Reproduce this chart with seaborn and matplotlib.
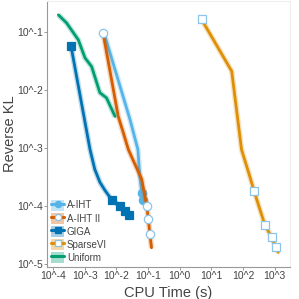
import numpy as np
import pandas as pd
import matplotlib
matplotlib.use("Agg")
import matplotlib.pyplot as plt
import matplotlib.ticker as mticker
from matplotlib.patches import Patch
from matplotlib.lines import Line2D
import seaborn as sns

# log10 values
aiht_t = [-2.39, -1.57, -1.32, -1.26, -1.20, -1.16]
aiht_kl = [-1.02, -2.51, -3.03, -3.49, -3.77, -3.89]

aiht2_t = [-2.42, -1.94, -1.78, -1.62, -1.48, -1.20, -1.10, -1.04, -0.99, -0.94, -0.89]
aiht2_kl = [-1.02, -2.46, -2.74, -3.03, -3.20, -3.54, -3.83, -4.00, -4.23, -4.49, -4.72]

giga_t = [-3.43, -2.83, -2.68, -2.52, -2.36, -2.15, -1.89, -1.73, -1.59]
giga_kl = [-1.25, -3.03, -3.37, -3.59, -3.73, -3.89, -4.00, -4.09, -4.16]

svi_t = [0.69, 1.64, 1.95, 2.21, 2.35, 2.53, 2.69, 2.90, 3.03, 3.11]
svi_kl = [-0.79, -1.68, -3.03, -3.49, -3.75, -4.06, -4.33, -4.54, -4.71, -4.80]

unif_t = [-3.83, -3.57, -3.20, -2.99, -2.78, -2.52, -2.31, -2.04]
unif_kl = [-0.71, -0.85, -1.14, -1.45, -1.60, -2.05, -2.14, -2.46]

x_ticks = [-4, -3, -2, -1, 0, 1, 2, 3]
y_ticks = [-5, -4, -3, -2, -1]

names = ["A-IHT", "A-IHT II", "GIGA", "SparseVI", "Uniform"]
pal = sns.color_palette("colorblind")
colors = {"A-IHT": pal[9], "A-IHT II": pal[3], "GIGA": pal[0],
          "SparseVI": pal[1], "Uniform": pal[2]}
edge = "#8cc4e8"
styles = {
    "A-IHT": dict(marker="o", mfc=pal[9], mec=pal[9], markevery=[4, 5]),
    "A-IHT II": dict(marker="o", mfc="white", mec=edge, markevery=[0, 7, 8, 9]),
    "GIGA": dict(marker="s", mfc=pal[0], mec=pal[0], markevery=[0, 5, 6, 7, 8]),
    "SparseVI": dict(marker="s", mfc="white", mec=edge, markevery=[0, 4, 6, 7, 8]),
    "Uniform": dict(marker=None),
}
series = {"A-IHT": (aiht_t, aiht_kl), "A-IHT II": (aiht2_t, aiht2_kl),
          "GIGA": (giga_t, giga_kl), "SparseVI": (svi_t, svi_kl),
          "Uniform": (unif_t, unif_kl)}

sns.set_style("white")
plt.rcParams["font.family"] = ["Liberation Sans", "DejaVu Sans"]

fig = plt.figure(figsize=(2.99, 2.99), dpi=100)
ax = fig.add_axes([0.157, 0.107, 0.813, 0.89])

handles = []
for name in names:
    t, kl = series[name]
    df = pd.DataFrame({"t": 10 ** np.array(t), "kl": 10 ** np.array(kl)})
    c = colors[name]
    # shaded band look
    sns.lineplot(data=df, x="t", y="kl", ax=ax, sort=False, color=c,
                 lw=4, alpha=0.25, solid_capstyle="butt")
    st = styles[name]
    kw = dict(marker=st["marker"], markersize=6, markeredgewidth=0.9)
    if st["marker"]:
        kw.update(markerfacecolor=st["mfc"], markeredgecolor=st["mec"],
                  markevery=st["markevery"])
    sns.lineplot(data=df, x="t", y="kl", ax=ax, sort=False, color=c, lw=2.0, **kw)
    ln = Line2D([], [], color=c, lw=2.2, marker=st["marker"], markersize=4.5,
                markerfacecolor=st.get("mfc", c), markeredgecolor=st.get("mec", c),
                markeredgewidth=0.9)
    handles.append((Patch(facecolor=c, alpha=0.35, edgecolor="none"), ln))

ax.set_xscale("log")
ax.set_yscale("log")
ax.set_xlim(10 ** -4.19, 10 ** 3.48)
ax.set_ylim(10 ** -5.05, 10 ** -0.47)

fmt = mticker.FuncFormatter(lambda v, p: "10^%d" % round(np.log10(v)))
ax.xaxis.set_major_locator(mticker.FixedLocator([10.0 ** k for k in x_ticks]))
ax.yaxis.set_major_locator(mticker.FixedLocator([10.0 ** k for k in y_ticks]))
ax.xaxis.set_major_formatter(fmt)
ax.yaxis.set_major_formatter(fmt)
minor = [m * 10.0 ** k for k in x_ticks[:-1] + [3] for m in range(2, 10)]
minor = [v for v in minor if v < 10 ** 3.48]
ax.xaxis.set_minor_locator(mticker.FixedLocator(minor))
ax.xaxis.set_minor_formatter(mticker.NullFormatter())
ax.yaxis.set_minor_locator(mticker.NullLocator())
ax.tick_params(axis="both", which="major", labelsize=7.5, length=2, width=0.6,
               color="#888888", labelcolor="#444444", pad=0.8)
ax.tick_params(axis="x", which="minor", length=1.5, width=0.5, color="#888888")
ax.tick_params(bottom=True, left=True)

for s in ["left", "bottom"]:
    ax.spines[s].set_color("#999999")
    ax.spines[s].set_linewidth(0.8)
for s in ["top", "right"]:
    ax.spines[s].set_color("#eeeeee")
    ax.spines[s].set_linewidth(0.8)

ax.set_xlabel("CPU Time (s)", fontsize=10.5, color="#444444")
ax.set_ylabel("Reverse KL", fontsize=10.5, color="#444444")
ax.xaxis.set_label_coords(0.5, -0.072)
ax.yaxis.set_label_coords(-0.125, 0.5)

ax.legend(handles, names, loc="lower left", frameon=False, fontsize=7,
          handlelength=1.3, handleheight=1.3, handletextpad=0.3,
          labelspacing=0.25, borderaxespad=0.25, borderpad=0.2,
          labelcolor="#444444")

fig.savefig("out.png", dpi=100)
